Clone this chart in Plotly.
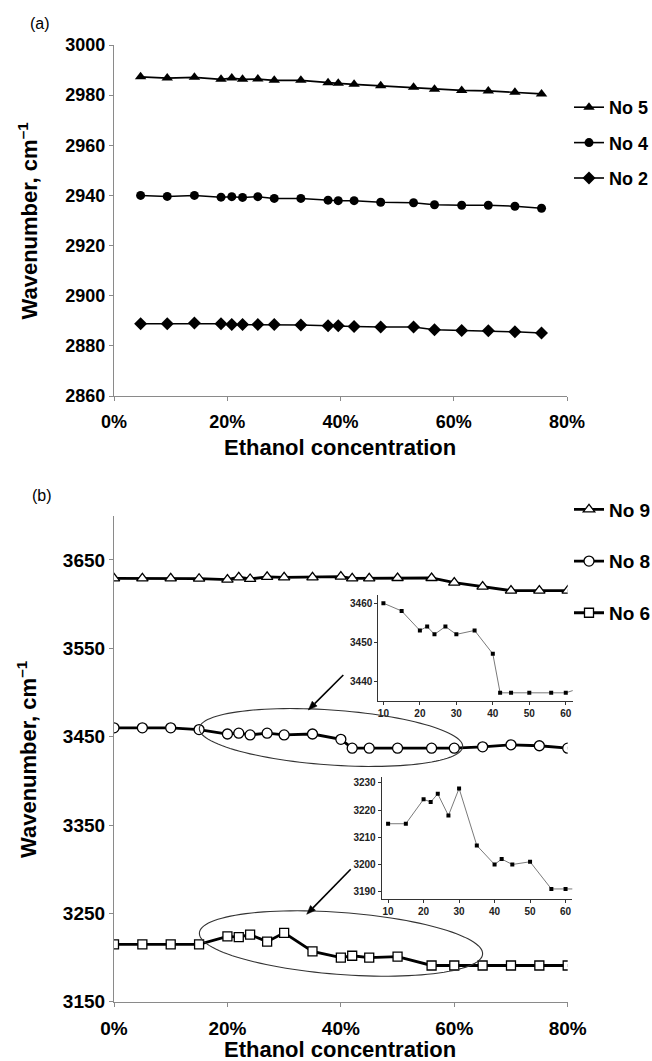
import numpy as np
import plotly.graph_objects as go

W, H = 652, 1061

# ---------------- data ----------------
# panel (a): x positions (percent)
conc_a = [4.7, 9.4, 14.2, 18.9, 20.8, 22.7, 25.4, 28.3, 33.0, 37.8,
          39.6, 42.4, 47.1, 52.9, 56.6, 61.4, 66.1, 70.8, 75.5]
no5 = [2987.3, 2986.8, 2987.1, 2986.3, 2986.8, 2986.3, 2986.4, 2985.9, 2985.9, 2984.9,
       2984.7, 2984.3, 2983.7, 2983.1, 2982.4, 2981.9, 2981.7, 2981.2, 2980.5]
no4 = [2940.0, 2939.6, 2940.0, 2939.3, 2939.5, 2939.2, 2939.5, 2938.8, 2938.8, 2938.1,
       2937.9, 2937.9, 2937.3, 2937.1, 2936.3, 2936.1, 2936.1, 2935.7, 2934.9]
no2 = [2888.8, 2888.8, 2889.1, 2888.8, 2888.5, 2888.5, 2888.5, 2888.5, 2888.3, 2888.0,
       2888.0, 2887.7, 2887.5, 2887.5, 2886.4, 2886.1, 2886.0, 2885.6, 2885.1]

# panel (b)
conc_b = [0, 5, 10, 15, 20, 22, 24, 27, 30, 35, 40, 42, 45, 50, 56, 60, 65, 70, 75, 80]
no9 = [3629.2, 3629.2, 3629.2, 3628.8, 3627.7, 3630.4, 3628.5, 3630.8, 3630.4, 3630.4,
       3631.1, 3629.2, 3629.2, 3629.6, 3629.6, 3624.3, 3619.8, 3615.3, 3615.3, 3615.3]
no8 = [3460, 3460, 3460, 3458, 3453, 3454, 3452, 3454, 3452, 3453,
       3447, 3437, 3437, 3437, 3437, 3437, 3438.5, 3440.8, 3439.7, 3437]
no6 = [3215, 3215, 3215, 3215, 3224, 3223, 3226, 3218, 3228, 3207,
       3200, 3202, 3200, 3201, 3191, 3191, 3191, 3191, 3191, 3191]

x_ticks = [0, 20, 40, 60, 80]
x_ticktext = ["0%", "20%", "40%", "60%", "80%"]
ya_ticks = [2860, 2880, 2900, 2920, 2940, 2960, 2980, 3000]
yb_ticks = [3150, 3250, 3350, 3450, 3550, 3650]
inset_x_ticks = [10, 20, 30, 40, 50, 60]
inset1_y_ticks = [3440, 3450, 3460]
inset2_y_ticks = [3190, 3200, 3210, 3220, 3230]

# inset data = the zoomed part (10 % .. 65 %) of the main series
ins_idx = [i for i, c in enumerate(conc_b) if 10 <= c <= 65]
ins_x = [conc_b[i] for i in ins_idx]
ins_no8 = [no8[i] for i in ins_idx]
ins_no6 = [no6[i] for i in ins_idx]

# ---------------- helpers ----------------
def px(xp):
    return xp / W

def py(yp):
    return 1 - yp / H

FONT = "Liberation Sans, Arial, sans-serif"
AX_GRAY = "#8a8a8a"

fig = go.Figure()

# panel (a)
for name, ys, sym, sz in [("No 5", no5, "triangle-up", 10),
                          ("No 4", no4, "circle", 9),
                          ("No 2", no2, "diamond", 10)]:
    fig.add_trace(go.Scatter(
        x=conc_a, y=ys, name=name, mode="lines+markers",
        line=dict(color="black", width=1.6),
        marker=dict(symbol=sym, size=sz, color="black"),
        xaxis="x", yaxis="y", legend="legend", legendgroup=name))

# panel (b)
for name, ys, sym, sz in [("No 9", no9, "triangle-up", 10),
                          ("No 8", no8, "circle", 10),
                          ("No 6", no6, "square", 9)]:
    fig.add_trace(go.Scatter(
        x=conc_b, y=ys, name=name, mode="lines+markers",
        line=dict(color="black", width=2.8),
        marker=dict(symbol=sym, size=sz, color="white",
                    line=dict(color="black", width=1.3)),
        xaxis="x2", yaxis="y2", legend="legend2", legendgroup=name))

# insets
fig.add_trace(go.Scatter(
    x=ins_x, y=ins_no8, mode="lines+markers", showlegend=False,
    line=dict(color="#7a7a7a", width=1),
    marker=dict(symbol="square", size=4, color="black"),
    xaxis="x3", yaxis="y3", cliponaxis=True))
fig.add_trace(go.Scatter(
    x=ins_x, y=ins_no6, mode="lines+markers", showlegend=False,
    line=dict(color="#7a7a7a", width=1),
    marker=dict(symbol="square", size=4, color="black"),
    xaxis="x4", yaxis="y4", cliponaxis=True))

tickfont_a = dict(family=FONT, size=18, color="black", weight="bold")
tickfont_b = dict(family=FONT, size=19, color="black", weight="bold")
inset_tickfont = dict(family=FONT, size=10, color="#222", weight="bold")

common_main = dict(showgrid=False, zeroline=False, showline=True, linecolor=AX_GRAY,
                   linewidth=1.2, ticks="outside", ticklen=4, tickcolor=AX_GRAY)
common_inset = dict(showgrid=False, zeroline=False, showline=True, linecolor="#333",
                    linewidth=1, ticks="outside", ticklen=3, tickcolor="#333",
                    tickfont=inset_tickfont)

fig.update_layout(
    width=W, height=H, margin=dict(l=0, r=0, t=0, b=0, autoexpand=False),
    paper_bgcolor="white", plot_bgcolor="rgba(0,0,0,0)",
    font=dict(family=FONT, color="black"),
    xaxis=dict(domain=[px(114), px(567)], range=[0, 80], anchor="y",
               tickvals=x_ticks, ticktext=x_ticktext, ticklabelstandoff=5,
               tickfont=tickfont_a, **common_main),
    yaxis=dict(domain=[py(396), py(45)], range=[2860, 3000], anchor="x",
               tickvals=ya_ticks, tickfont=tickfont_a, **common_main),
    xaxis2=dict(domain=[px(114), px(567.7)], range=[0, 80], anchor="y2",
                tickvals=x_ticks, ticktext=x_ticktext, ticklabelstandoff=5,
                tickfont=tickfont_b, **common_main),
    yaxis2=dict(domain=[py(1001.7), py(515.8)], range=[3150, 3700], anchor="x2",
                tickvals=yb_ticks, tickfont=tickfont_b, **common_main),
    xaxis3=dict(domain=[px(378.3), px(572.7)], range=[8.6, 61.9], anchor="y3",
                tickvals=inset_x_ticks, **common_inset),
    yaxis3=dict(domain=[py(701), py(595)], range=[3434.9, 3462.1], anchor="x3",
                tickvals=inset1_y_ticks, **common_inset),
    xaxis4=dict(domain=[px(381.7), px(572.3)], range=[8.2, 61.9], anchor="y4",
                tickvals=inset_x_ticks, **common_inset),
    yaxis4=dict(domain=[py(899), py(777)], range=[3187.3, 3232.2], anchor="x4",
                tickvals=inset2_y_ticks, **common_inset),
    legend=dict(x=px(569), y=py(89), xanchor="left", yanchor="top",
                font=dict(family=FONT, size=18, weight="bold"),
                bgcolor="rgba(0,0,0,0)", tracegroupgap=9, traceorder="grouped",
                itemwidth=30),
    legend2=dict(x=px(569), y=py(490.5), xanchor="left", yanchor="top",
                 font=dict(family=FONT, size=19, weight="bold"),
                 bgcolor="rgba(0,0,0,0)", tracegroupgap=24, traceorder="grouped",
                 itemwidth=30),
)

# ellipses (tilted) drawn in paper coordinates
def ellipse_path(cx, cy, a, b, ang_deg, n=120):
    t = np.linspace(0, 2 * np.pi, n)
    th = np.deg2rad(ang_deg)
    xs = cx + a * np.cos(t) * np.cos(th) - b * np.sin(t) * np.sin(th)
    ys = cy + a * np.cos(t) * np.sin(th) + b * np.sin(t) * np.cos(th)
    pts = [f"{px(x):.5f},{py(y):.5f}" for x, y in zip(xs, ys)]
    return "M" + " L".join(pts) + " Z"

for (cx, cy, a, b, ang) in [(331, 737.5, 132, 27.5, 4.0), (341, 943.5, 142, 31, 4.3)]:
    fig.add_shape(type="path", path=ellipse_path(cx, cy, a, b, ang),
                  xref="paper", yref="paper", line=dict(color="#333", width=1.1))

# arrows drawn as shapes (shaft + filled head), pixel geometry -> paper
def arrow(tx, ty, hx, hy, head_len=9, head_w=7):
    d = np.array([hx - tx, hy - ty], dtype=float)
    d /= np.linalg.norm(d)
    n = np.array([-d[1], d[0]])
    base = np.array([hx, hy]) - d * head_len
    fig.add_shape(type="line", x0=px(tx), y0=py(ty), x1=px(base[0]), y1=py(base[1]),
                  xref="paper", yref="paper", line=dict(color="black", width=1.6))
    p1 = base + n * head_w / 2
    p2 = base - n * head_w / 2
    path = (f"M{px(hx):.5f},{py(hy):.5f} L{px(p1[0]):.5f},{py(p1[1]):.5f} "
            f"L{px(p2[0]):.5f},{py(p2[1]):.5f} Z")
    fig.add_shape(type="path", path=path, xref="paper", yref="paper",
                  fillcolor="black", line=dict(color="black", width=0.5))

arrow(343.3, 675, 308.3, 710)
arrow(350.7, 869.3, 306.7, 914.3)

# text annotations
title_font = dict(family=FONT, size=22, color="black", weight="bold")
def label(x, y, text, font, angle=0):
    fig.add_annotation(x=px(x), y=py(y), xref="paper", yref="paper", text=text,
                       xanchor="center", yanchor="middle", textangle=angle,
                       showarrow=False, font=font)

label(40, 23, "(a)", dict(family=FONT, size=16, color="black"))
label(42, 495, "(b)", dict(family=FONT, size=16, color="black"))
for yc in [220.5, 759]:
    label(27, yc, "Wavenumber, cm<sup>\u20131</sup>", title_font, angle=-90)
for yc in [447, 1049]:
    label(340, yc, "Ethanol concentration", dict(title_font, size=22))

fig.write_html("out.html")
